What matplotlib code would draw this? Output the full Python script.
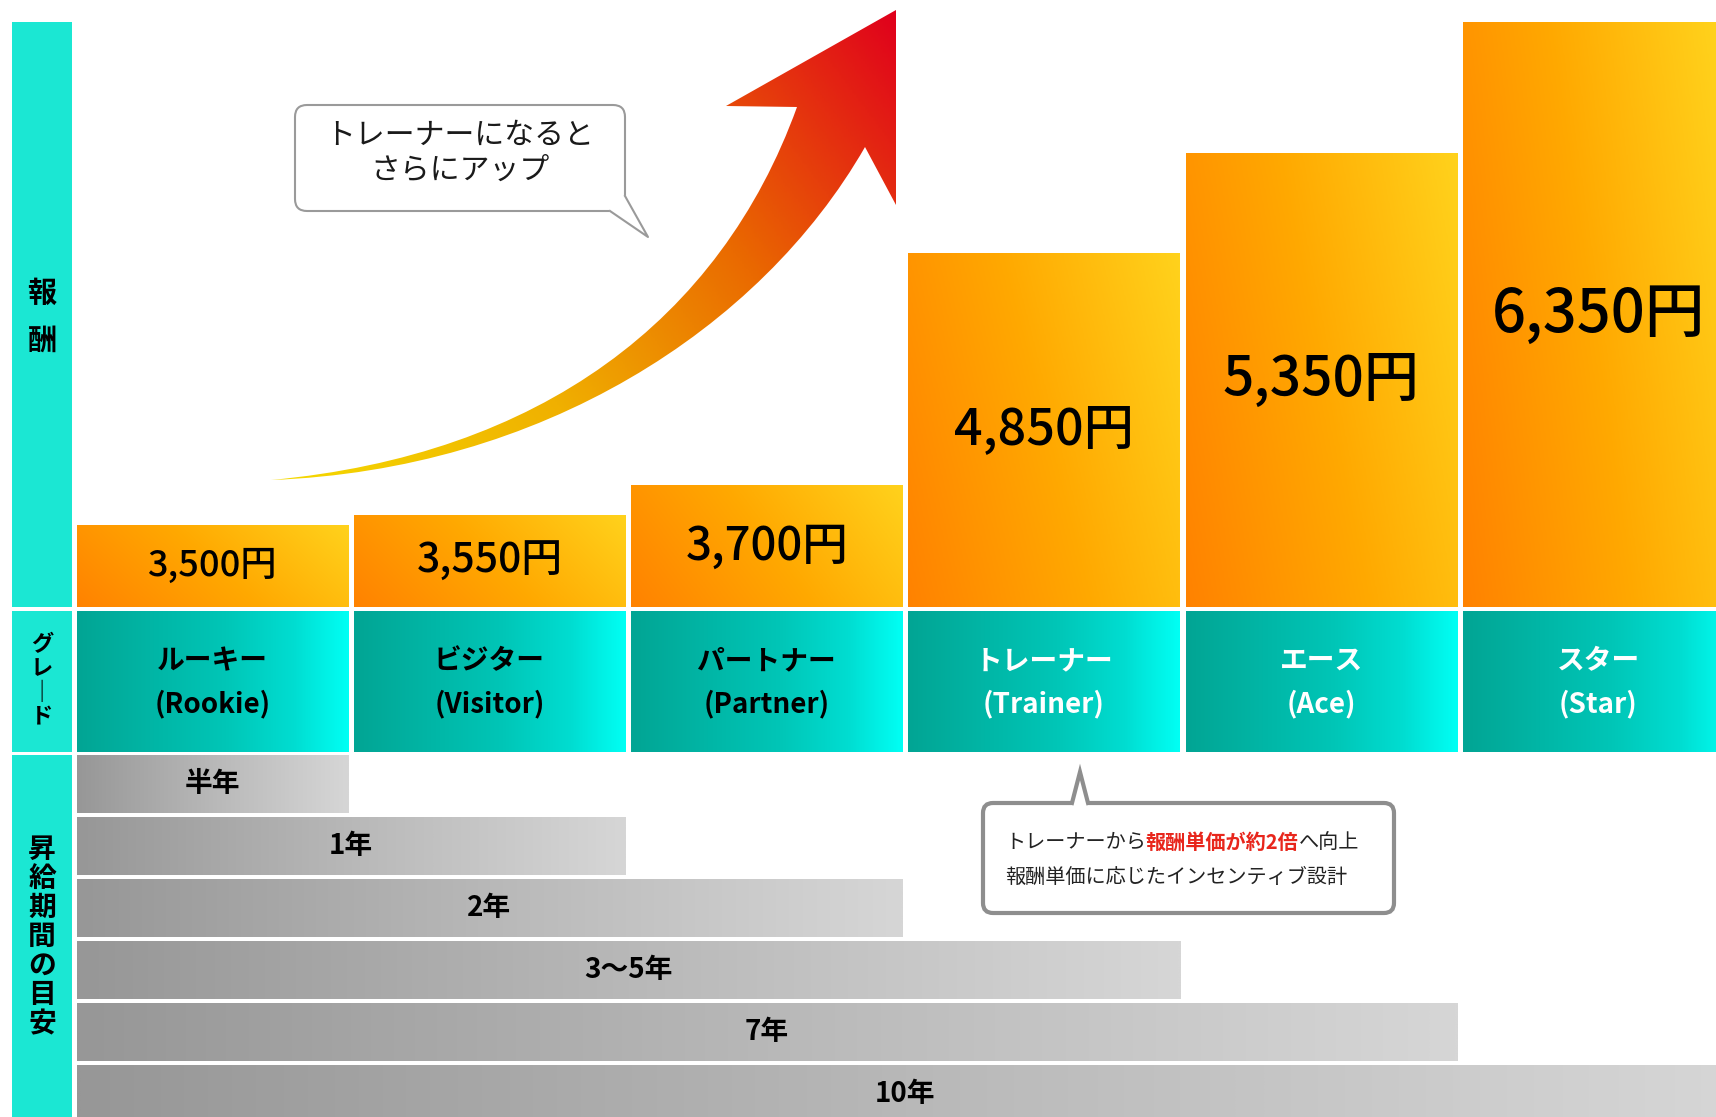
import numpy as np
import matplotlib
matplotlib.use("Agg")
import matplotlib.pyplot as plt
from matplotlib.colors import LinearSegmentedColormap
from matplotlib.patches import Rectangle, FancyBboxPatch, Polygon, PathPatch
from matplotlib.path import Path

plt.rcParams['font.family'] = ['Noto Sans CJK JP', 'DejaVu Sans']

W, H = 1716, 1117

# データ
grades_ja = ["ルーキー", "ビジター", "パートナー", "トレーナー", "エース", "スター"]
grades_en = ["(Rookie)", "(Visitor)", "(Partner)", "(Trainer)", "(Ace)", "(Star)"]
pay = [3500, 3550, 3700, 4850, 5350, 6350]
periods = ["半年", "1年", "2年", "3〜5年", "7年", "10年"]
period_upto = [0, 1, 2, 3, 4, 5]   # 到達グレードの番号

PAY_BASE, PAY_TOP = 3093, 5999
X0, X1 = -0.506, 5.424
BAR_W = 0.979

orange = LinearSegmentedColormap.from_list("o", ["#FF8200", "#FFA800", "#FFD21C"])
teal = LinearSegmentedColormap.from_list(
    "t", [(0, "#02A594"), (0.55, "#00C6B7"), (0.8, "#00DDD1"), (1, "#00FFF4")])
gray = LinearSegmentedColormap.from_list("g", ["#979797", "#B8B8B8", "#D6D6D6"])
arrow_cm = LinearSegmentedColormap.from_list(
    "a", [(0, "#F5DA00"), (0.35, "#F0B000"), (0.65, "#EA6A00"), (1, "#E0001C")])


def fig_rect(x, y, w, h):
    # 画像ピクセル（左上原点）→ figure 座標
    return [x / W, 1 - (y + h) / H, w / W, h / H]


def grad(ax, patch, extent, cmap, kx=1.0, ky=0.0):
    u = np.linspace(0, 1, 200)
    uu, vv = np.meshgrid(u, u)
    t = (kx * uu + ky * vv) / (kx + ky)
    im = ax.imshow(t, extent=extent, origin="lower", cmap=cmap, aspect="auto",
                   vmin=0, vmax=1, interpolation="bilinear",
                   zorder=patch.get_zorder() + 0.1)
    im.set_clip_path(patch)


fig = plt.figure(figsize=(W / 100, H / 100), dpi=100)
fig.patch.set_facecolor("white")

# 報酬（上段）
ax_top = fig.add_axes(fig_rect(72, 22, W - 72, 585))
xs = np.arange(len(pay))
bars = ax_top.bar(xs, np.array(pay) - PAY_BASE, bottom=PAY_BASE, width=BAR_W,
                  color="#FFA000", zorder=2)
for i, (b, v) in enumerate(zip(bars, pay)):
    top = min(v, PAY_TOP)
    grad(ax_top, b, (i - BAR_W / 2, min(i + BAR_W / 2, X1), PAY_BASE, top),
         orange, 0.75, 0.25)
    ax_top.text(i, (PAY_BASE + top) / 2, f"{v:,}円", ha="center", va="center",
                fontsize=26 + 3.4 * i, fontweight="medium", color="black", zorder=5)
ax_top.set_xlim(X0, X1)
ax_top.set_ylim(PAY_BASE, PAY_TOP)
ax_top.axis("off")

# グレード（中段）
ax_mid = fig.add_axes(fig_rect(72, 611, W - 72, 141))
cells = ax_mid.bar(xs, 1, width=BAR_W, color="#00C6B7", zorder=2)
for i, c in enumerate(cells):
    grad(ax_mid, c, (i - BAR_W / 2, i + BAR_W / 2, 0, 1), teal)
    col = "black" if i < 3 else "white"
    ax_mid.text(i, 0.645, grades_ja[i], ha="center", va="center", fontsize=20,
                fontweight="bold", color=col, zorder=5)
    ax_mid.text(i, 0.34, grades_en[i], ha="center", va="center", fontsize=20,
                fontweight="bold", color=col, zorder=5)
ax_mid.set_xlim(X0, X1)
ax_mid.set_ylim(0, 1)
ax_mid.axis("off")

# 昇給期間の目安（下段）
ax_bot = fig.add_axes(fig_rect(72, 755, W - 72, H - 755))
left = -BAR_W / 2
rows = np.arange(len(periods))
rights = np.array(period_upto) + BAR_W / 2
hb = ax_bot.barh(rows, rights - left, left=left, height=0.935, color="#B8B8B8", zorder=2)
for i, b in enumerate(hb):
    grad(ax_bot, b, (left, rights[i], i - 0.4675, i + 0.4675), gray)
    ax_bot.text((left + rights[i]) / 2, i, periods[i], ha="center", va="center",
                fontsize=20, fontweight="bold", color="black", zorder=5)
ax_bot.set_xlim(X0, X1)
ax_bot.set_ylim(5.371, -0.468)
ax_bot.axis("off")

# 飾り（左の見出し・矢印・吹き出し）
ov = fig.add_axes([0, 0, 1, 1], zorder=10)
ov.set_xlim(0, W)
ov.set_ylim(H, 0)
ov.axis("off")
ov.patch.set_alpha(0)

side = "#1BE7D3"
for y0, h in [(22, 585), (611, 141), (755, H - 755)]:
    ov.add_patch(Rectangle((12, y0), 60, h, color=side, lw=0))


def vtext(chars, yc, pitch, size):
    n = len(chars)
    for k, ch in enumerate(chars):
        ov.text(42, yc + (k - (n - 1) / 2) * pitch, ch, ha="center", va="center",
                fontsize=size, fontweight="bold", color="black")


vtext("報酬", 317, 48, 21)
vtext(["グ", "レ", "｜", "ド"], 681, 24, 16)
vtext("昇給期間の目安", 937, 29, 20)

# 矢印
verts = [(271, 480),
         (540, 455), (720, 320), (797, 107),
         (726, 106), (896, 10), (896, 205), (865, 147),
         (760, 330), (540, 470), (271, 480),
         (271, 480)]
codes = [Path.MOVETO,
         Path.CURVE4, Path.CURVE4, Path.CURVE4,
         Path.LINETO, Path.LINETO, Path.LINETO, Path.LINETO,
         Path.CURVE4, Path.CURVE4, Path.CURVE4,
         Path.CLOSEPOLY]
arrow = PathPatch(Path(verts, codes), fc="none", ec="none", zorder=3)
ov.add_patch(arrow)
gx = np.linspace(250, 900, 300)
gy = np.linspace(490, 0, 300)
GX, GY = np.meshgrid(gx, gy)
dx, dy = 896 - 271, 10 - 480
T = np.clip(((GX - 271) * dx + (GY - 480) * dy) / (dx * dx + dy * dy), 0, 1)
im = ov.imshow(T, extent=(250, 900, 490, 0), origin="lower", cmap=arrow_cm,
               aspect="auto", vmin=0, vmax=1, zorder=3)
im.set_clip_path(arrow)
ov.set_xlim(0, W)
ov.set_ylim(H, 0)

# 吹き出し1
ov.add_patch(FancyBboxPatch((295, 105), 330, 106, boxstyle="round,pad=0,rounding_size=12",
                            fc="white", ec="#9A9A9A", lw=1.5, zorder=4))
ov.add_patch(Polygon([(625, 195), (648, 237), (609, 211)], closed=True,
                     fc="white", ec="none", zorder=4.5))
ov.plot([625, 648, 610], [196, 237, 211], color="#9A9A9A", lw=1.5, zorder=4.6)
ov.text(460, 135, "トレーナーになると", ha="center", va="center", fontsize=21.5,
        color="#1A1A1A", zorder=5)
ov.text(460, 170, "さらにアップ", ha="center", va="center", fontsize=21.5,
        color="#1A1A1A", zorder=5)

# 吹き出し2
ov.add_patch(FancyBboxPatch((983, 803), 411, 110, boxstyle="round,pad=0,rounding_size=10",
                            fc="white", ec="#8E8E8E", lw=3, zorder=4))
ov.add_patch(Polygon([(1071, 807), (1080, 772), (1089, 807)], closed=True,
                     fc="white", ec="none", zorder=4.5))
ov.plot([1072, 1080, 1088], [803, 772, 803], color="#8E8E8E", lw=3, zorder=4.6,
        solid_joinstyle="miter")
t1 = ov.text(1005, 842, "トレーナーから", ha="left", va="center", fontsize=14.5,
             color="#222222", zorder=5)
t2 = ov.annotate("報酬単価が約2倍", xy=(1, 0), xycoords=t1, ha="left", va="bottom",
                 fontsize=14.5, fontweight="bold", color="#E8261C", zorder=5)
ov.annotate("へ向上", xy=(1, 0), xycoords=t2, ha="left", va="bottom",
            fontsize=14.5, color="#222222", zorder=5)
ov.text(1005, 877, "報酬単価に応じたインセンティブ設計", ha="left", va="center",
        fontsize=14.5, color="#222222", zorder=5)

fig.savefig("out.png", dpi=100)
